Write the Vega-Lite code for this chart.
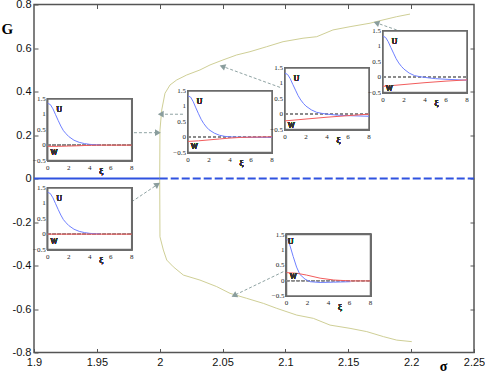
{
  "$schema": "https://vega.github.io/schema/vega-lite/v6.json",
  "width": 440,
  "height": 348,
  "autosize": {"type": "none"},
  "padding": {"left": 34, "top": 4.5, "right": 11, "bottom": 24.5},
  "background": "white",
  "config": {
    "view": {"stroke": "#555555", "strokeWidth": 1.5},
    "axis": {"grid": false, "domain": false, "tickColor": "#555555", "labelColor": "#111111"},
    "text": {"fill": "#1a1a1a", "opacity": 1}
  },
  "datasets": {
    "curve": [
      {"branch": "upper", "sigma": 2.0, "G": 0.0},
      {"branch": "upper", "sigma": 2.0002, "G": 0.223},
      {"branch": "upper", "sigma": 2.0016, "G": 0.315},
      {"branch": "upper", "sigma": 2.0042, "G": 0.392},
      {"branch": "upper", "sigma": 2.0082, "G": 0.43},
      {"branch": "upper", "sigma": 2.0135, "G": 0.453},
      {"branch": "upper", "sigma": 2.0215, "G": 0.476},
      {"branch": "upper", "sigma": 2.032, "G": 0.499},
      {"branch": "upper", "sigma": 2.04, "G": 0.522},
      {"branch": "upper", "sigma": 2.0503, "G": 0.545},
      {"branch": "upper", "sigma": 2.0612, "G": 0.568},
      {"branch": "upper", "sigma": 2.0718, "G": 0.583},
      {"branch": "upper", "sigma": 2.0851, "G": 0.606},
      {"branch": "upper", "sigma": 2.0981, "G": 0.629},
      {"branch": "upper", "sigma": 2.114, "G": 0.645},
      {"branch": "upper", "sigma": 2.1249, "G": 0.652},
      {"branch": "upper", "sigma": 2.1378, "G": 0.683},
      {"branch": "upper", "sigma": 2.1514, "G": 0.698},
      {"branch": "upper", "sigma": 2.1673, "G": 0.714},
      {"branch": "upper", "sigma": 2.1776, "G": 0.729},
      {"branch": "upper", "sigma": 2.1885, "G": 0.744},
      {"branch": "upper", "sigma": 2.1991, "G": 0.756},
      {"branch": "lower", "sigma": 2.0, "G": 0.0},
      {"branch": "lower", "sigma": 2.0002, "G": -0.268},
      {"branch": "lower", "sigma": 2.0029, "G": -0.329},
      {"branch": "lower", "sigma": 2.0056, "G": -0.375},
      {"branch": "lower", "sigma": 2.0108, "G": -0.406},
      {"branch": "lower", "sigma": 2.0188, "G": -0.444},
      {"branch": "lower", "sigma": 2.032, "G": -0.467},
      {"branch": "lower", "sigma": 2.0453, "G": -0.497},
      {"branch": "lower", "sigma": 2.0559, "G": -0.528},
      {"branch": "lower", "sigma": 2.0692, "G": -0.551},
      {"branch": "lower", "sigma": 2.0824, "G": -0.574},
      {"branch": "lower", "sigma": 2.0931, "G": -0.597},
      {"branch": "lower", "sigma": 2.109, "G": -0.628},
      {"branch": "lower", "sigma": 2.1222, "G": -0.643},
      {"branch": "lower", "sigma": 2.1355, "G": -0.674},
      {"branch": "lower", "sigma": 2.1514, "G": -0.689},
      {"branch": "lower", "sigma": 2.1647, "G": -0.704},
      {"branch": "lower", "sigma": 2.1779, "G": -0.727},
      {"branch": "lower", "sigma": 2.1885, "G": -0.743},
      {"branch": "lower", "sigma": 2.2005, "G": -0.75}
    ],
    "arrows": [
      {"id": "A1", "s1": 1.9795, "g1": 0.2106, "s2": 1.9978, "g2": 0.2106},
      {"id": "A2", "s1": 1.9777, "g1": -0.107, "s2": 1.9976, "g2": -0.03},
      {"id": "A3", "s1": 2.0185, "g1": 0.2955, "s2": 2.0016, "g2": 0.2955},
      {"id": "A4", "s1": 2.0957, "g1": 0.419, "s2": 2.0506, "g2": 0.514},
      {"id": "A5", "s1": 2.1885, "g1": 0.683, "s2": 2.1731, "g2": 0.714},
      {"id": "A6", "s1": 2.0983, "g1": -0.4285, "s2": 2.0599, "g2": -0.5356}
    ],
    "xt": [{"t": 0, "lab": "0"}, {"t": 2, "lab": "2"}, {"t": 4, "lab": "4"}, {"t": 6, "lab": "6"}, {"t": 8, "lab": "8"}],
    "yt": [{"t": -0.5, "lab": "−0.5"}, {"t": 0, "lab": "0"}, {"t": 0.5, "lab": "0.5"}, {"t": 1, "lab": "1"}, {"t": 1.5, "lab": "1.5"}],
    "inset1": [
      {"s": "U", "xi": 0, "v": 1.36}, {"s": "U", "xi": 0.25, "v": 1.32}, {"s": "U", "xi": 0.5, "v": 1.18}, {"s": "U", "xi": 0.75, "v": 0.99}, {"s": "U", "xi": 1, "v": 0.8}, {"s": "U", "xi": 1.25, "v": 0.62}, {"s": "U", "xi": 1.5, "v": 0.47}, {"s": "U", "xi": 1.75, "v": 0.37}, {"s": "U", "xi": 2, "v": 0.28}, {"s": "U", "xi": 2.5, "v": 0.16}, {"s": "U", "xi": 3, "v": 0.09}, {"s": "U", "xi": 3.5, "v": 0.05}, {"s": "U", "xi": 4, "v": 0.025}, {"s": "U", "xi": 4.5, "v": 0.012}, {"s": "U", "xi": 5, "v": 0.005},
      {"s": "W", "xi": 0, "v": -0.04}, {"s": "W", "xi": 1, "v": -0.04}, {"s": "W", "xi": 2, "v": -0.03}, {"s": "W", "xi": 3, "v": -0.02}, {"s": "W", "xi": 4, "v": -0.005}, {"s": "W", "xi": 5, "v": 0}, {"s": "W", "xi": 8, "v": 0}
    ],
    "inset2": [
      {"s": "U", "xi": 0, "v": 1.36}, {"s": "U", "xi": 0.25, "v": 1.32}, {"s": "U", "xi": 0.5, "v": 1.18}, {"s": "U", "xi": 0.75, "v": 0.99}, {"s": "U", "xi": 1, "v": 0.8}, {"s": "U", "xi": 1.25, "v": 0.62}, {"s": "U", "xi": 1.5, "v": 0.47}, {"s": "U", "xi": 1.75, "v": 0.37}, {"s": "U", "xi": 2, "v": 0.28}, {"s": "U", "xi": 2.5, "v": 0.16}, {"s": "U", "xi": 3, "v": 0.09}, {"s": "U", "xi": 3.5, "v": 0.05}, {"s": "U", "xi": 4, "v": 0.025}, {"s": "U", "xi": 4.5, "v": 0.012}, {"s": "U", "xi": 5, "v": 0.005},
      {"s": "W", "xi": 0, "v": 0}, {"s": "W", "xi": 8, "v": 0}
    ],
    "inset3": [
      {"s": "U", "xi": 0, "v": 1.34}, {"s": "U", "xi": 0.25, "v": 1.3}, {"s": "U", "xi": 0.5, "v": 1.15}, {"s": "U", "xi": 0.75, "v": 0.95}, {"s": "U", "xi": 1, "v": 0.76}, {"s": "U", "xi": 1.25, "v": 0.58}, {"s": "U", "xi": 1.5, "v": 0.44}, {"s": "U", "xi": 1.75, "v": 0.33}, {"s": "U", "xi": 2, "v": 0.24}, {"s": "U", "xi": 2.5, "v": 0.13}, {"s": "U", "xi": 3, "v": 0.06}, {"s": "U", "xi": 3.5, "v": 0.025}, {"s": "U", "xi": 4, "v": 0.008}, {"s": "U", "xi": 5, "v": -0.003}, {"s": "U", "xi": 6, "v": -0.006}, {"s": "U", "xi": 8, "v": -0.008},
      {"s": "W", "xi": 0, "v": -0.14}, {"s": "W", "xi": 1, "v": -0.12}, {"s": "W", "xi": 2, "v": -0.09}, {"s": "W", "xi": 3, "v": -0.06}, {"s": "W", "xi": 4, "v": -0.03}, {"s": "W", "xi": 5, "v": -0.01}, {"s": "W", "xi": 6, "v": 0}, {"s": "W", "xi": 8, "v": 0.01}
    ],
    "inset4": [
      {"s": "U", "xi": 0, "v": 1.33}, {"s": "U", "xi": 0.25, "v": 1.29}, {"s": "U", "xi": 0.5, "v": 1.15}, {"s": "U", "xi": 0.75, "v": 0.96}, {"s": "U", "xi": 1, "v": 0.78}, {"s": "U", "xi": 1.25, "v": 0.6}, {"s": "U", "xi": 1.5, "v": 0.46}, {"s": "U", "xi": 1.75, "v": 0.35}, {"s": "U", "xi": 2, "v": 0.26}, {"s": "U", "xi": 2.5, "v": 0.14}, {"s": "U", "xi": 3, "v": 0.06}, {"s": "U", "xi": 3.5, "v": 0.025}, {"s": "U", "xi": 4, "v": 0.0}, {"s": "U", "xi": 5, "v": -0.035}, {"s": "U", "xi": 6, "v": -0.05}, {"s": "U", "xi": 8, "v": -0.07},
      {"s": "W", "xi": 0, "v": -0.22}, {"s": "W", "xi": 2, "v": -0.16}, {"s": "W", "xi": 4, "v": -0.1}, {"s": "W", "xi": 6, "v": -0.05}, {"s": "W", "xi": 8, "v": 0.0}
    ],
    "inset5": [
      {"s": "U", "xi": 0, "v": 1.33}, {"s": "U", "xi": 0.25, "v": 1.29}, {"s": "U", "xi": 0.5, "v": 1.15}, {"s": "U", "xi": 0.75, "v": 0.96}, {"s": "U", "xi": 1, "v": 0.78}, {"s": "U", "xi": 1.25, "v": 0.6}, {"s": "U", "xi": 1.5, "v": 0.46}, {"s": "U", "xi": 1.75, "v": 0.35}, {"s": "U", "xi": 2, "v": 0.26}, {"s": "U", "xi": 2.5, "v": 0.13}, {"s": "U", "xi": 3, "v": 0.05}, {"s": "U", "xi": 3.5, "v": 0.015}, {"s": "U", "xi": 4, "v": -0.01}, {"s": "U", "xi": 5, "v": -0.05}, {"s": "U", "xi": 6, "v": -0.07}, {"s": "U", "xi": 8, "v": -0.1},
      {"s": "W", "xi": 0, "v": -0.3}, {"s": "W", "xi": 2, "v": -0.24}, {"s": "W", "xi": 4, "v": -0.18}, {"s": "W", "xi": 6, "v": -0.13}, {"s": "W", "xi": 8, "v": -0.09}
    ],
    "inset6": [
      {"s": "U", "xi": 0, "v": 1.36}, {"s": "U", "xi": 0.16, "v": 1.3}, {"s": "U", "xi": 0.32, "v": 1.15}, {"s": "U", "xi": 0.64, "v": 0.78}, {"s": "U", "xi": 0.96, "v": 0.44}, {"s": "U", "xi": 1.28, "v": 0.2}, {"s": "U", "xi": 1.76, "v": 0.05}, {"s": "U", "xi": 2.24, "v": -0.035}, {"s": "U", "xi": 3.2, "v": -0.06}, {"s": "U", "xi": 4.5, "v": -0.05}, {"s": "U", "xi": 6.1, "v": -0.035},
      {"s": "W", "xi": 0, "v": 0.26}, {"s": "W", "xi": 0.96, "v": 0.24}, {"s": "W", "xi": 1.92, "v": 0.18}, {"s": "W", "xi": 3.2, "v": 0.08}, {"s": "W", "xi": 4.5, "v": 0.02}, {"s": "W", "xi": 6.1, "v": -0.01}, {"s": "W", "xi": 8, "v": -0.01}
    ]
  },
  "layer": [
    {
      "layer": [
        {
          "data": {"name": "curve"},
          "mark": {"type": "line", "color": "#cfcf96", "strokeWidth": 1},
          "encoding": {
            "x": {"field": "sigma", "type": "quantitative", "scale": {"domain": [1.9, 2.25], "nice": false, "zero": false},
              "axis": {"orient": "bottom", "values": [1.9, 1.95, 2, 2.05, 2.1, 2.15, 2.2, 2.25], "format": "~g", "tickSize": -4, "labelPadding": 8, "labelFont": "Liberation Sans", "labelFontSize": 11, "labelFlush": false,
                "title": "σ", "titleFont": "Liberation Serif", "titleFontSize": 14, "titleFontWeight": "bold", "titleX": 409, "titleY": 13.5, "titleBaseline": "middle", "titleAlign": "center", "titleAnchor": null}},
            "y": {"field": "G", "type": "quantitative", "scale": {"domain": [-0.8, 0.8], "nice": false, "zero": false},
              "axis": {"orient": "left", "values": [-0.8, -0.6, -0.4, -0.2, 0, 0.2, 0.4, 0.6, 0.8], "format": "~g", "labelExpr": "replace(datum.label, '−', '-')", "tickSize": -4, "labelPadding": 7, "labelFont": "Liberation Sans", "labelFontSize": 11, "labelFlush": false,
                "title": "G", "titleAngle": 0, "titleFont": "Liberation Serif", "titleFontSize": 15, "titleFontWeight": "bold", "titleX": -33, "titleY": 23.5, "titleBaseline": "middle", "titleAlign": "left", "titleAnchor": null}},
            "detail": {"field": "branch", "type": "nominal"}
          }
        },
        {
          "data": {"values": [{"sigma": 1.9, "G": 0}, {"sigma": 2.0, "G": 0}]},
          "mark": {"type": "line", "color": "#2f52e0", "strokeWidth": 2.2},
          "encoding": {
            "x": {"field": "sigma", "type": "quantitative", "axis": {"orient": "top", "values": [1.95, 2, 2.05, 2.1, 2.15, 2.2], "labels": false, "tickSize": -4, "title": null}},
            "y": {"field": "G", "type": "quantitative", "axis": {"orient": "right", "values": [-0.6, -0.4, -0.2, 0, 0.2, 0.4, 0.6], "labels": false, "tickSize": -4, "title": null}}
          }
        },
        {
          "data": {"values": [{"sigma": 2.0, "G": 0}, {"sigma": 2.25, "G": 0}]},
          "mark": {"type": "line", "color": "#2f52e0", "strokeWidth": 2.2, "strokeDash": [8, 3]},
          "encoding": {
            "x": {"field": "sigma", "type": "quantitative", "axis": null},
            "y": {"field": "G", "type": "quantitative", "axis": null}
          }
        },
        {
          "data": {"name": "arrows"},
          "mark": {"type": "rule", "color": "#8fa3a3", "strokeWidth": 1, "strokeDash": [3, 2]},
          "encoding": {
            "x": {"field": "s1", "type": "quantitative", "axis": null},
            "y": {"field": "g1", "type": "quantitative", "axis": null},
            "x2": {"field": "s2"},
            "y2": {"field": "g2"}
          }
        },
        {"data": {"name": "arrows"}, "transform": [{"filter": "datum.id == 'A1'"}], "mark": {"type": "point", "shape": "triangle", "filled": true, "color": "#8a9d9d", "opacity": 1, "size": 45, "angle": 90}, "encoding": {"x": {"field": "s2", "type": "quantitative", "axis": null}, "y": {"field": "g2", "type": "quantitative", "axis": null}}},
        {"data": {"name": "arrows"}, "transform": [{"filter": "datum.id == 'A2'"}], "mark": {"type": "point", "shape": "triangle", "filled": true, "color": "#8a9d9d", "opacity": 1, "size": 45, "angle": 56}, "encoding": {"x": {"field": "s2", "type": "quantitative", "axis": null}, "y": {"field": "g2", "type": "quantitative", "axis": null}}},
        {"data": {"name": "arrows"}, "transform": [{"filter": "datum.id == 'A3'"}], "mark": {"type": "point", "shape": "triangle", "filled": true, "color": "#8a9d9d", "opacity": 1, "size": 45, "angle": 270}, "encoding": {"x": {"field": "s2", "type": "quantitative", "axis": null}, "y": {"field": "g2", "type": "quantitative", "axis": null}}},
        {"data": {"name": "arrows"}, "transform": [{"filter": "datum.id == 'A4'"}], "mark": {"type": "point", "shape": "triangle", "filled": true, "color": "#8a9d9d", "opacity": 1, "size": 45, "angle": 290}, "encoding": {"x": {"field": "s2", "type": "quantitative", "axis": null}, "y": {"field": "g2", "type": "quantitative", "axis": null}}},
        {"data": {"name": "arrows"}, "transform": [{"filter": "datum.id == 'A5'"}], "mark": {"type": "point", "shape": "triangle", "filled": true, "color": "#8a9d9d", "opacity": 1, "size": 45, "angle": 289}, "encoding": {"x": {"field": "s2", "type": "quantitative", "axis": null}, "y": {"field": "g2", "type": "quantitative", "axis": null}}},
        {"data": {"name": "arrows"}, "transform": [{"filter": "datum.id == 'A6'"}], "mark": {"type": "point", "shape": "triangle", "filled": true, "color": "#8a9d9d", "opacity": 1, "size": 45, "angle": 244}, "encoding": {"x": {"field": "s2", "type": "quantitative", "axis": null}, "y": {"field": "g2", "type": "quantitative", "axis": null}}}
      ],
      "resolve": {"axis": {"x": "independent", "y": "independent"}}
    },
    {
      "data": {"name": "inset1"},
      "layer": [
        {"mark": {"type": "rect", "fill": "white", "stroke": "#6b6b6b", "strokeWidth": 1.5},
         "encoding": {"x": {"datum": 0, "type": "quantitative", "axis": null, "scale": {"domain": [0, 8], "range": [13.7, 97.7], "nice": false, "zero": false}}, "x2": {"datum": 8}, "y": {"datum": -0.5, "type": "quantitative", "axis": null, "scale": {"domain": [-0.5, 1.5], "range": [156, 94.5], "nice": false, "zero": false}}, "y2": {"datum": 1.5}}},
        {"mark": {"type": "rule", "color": "#8a8a8a", "strokeWidth": 0.8, "strokeDash": [3, 2]}, "encoding": {"x": {"datum": 0, "type": "quantitative", "axis": null}, "x2": {"datum": 8}, "y": {"datum": 0, "type": "quantitative", "axis": null}}},
        {"mark": {"type": "line", "strokeWidth": 1}, "encoding": {"x": {"field": "xi", "type": "quantitative", "axis": null}, "y": {"field": "v", "type": "quantitative", "axis": null}, "color": {"field": "s", "type": "nominal", "scale": {"domain": ["U", "W"], "range": ["#6f80ff", "#f25c5c"]}, "legend": null}}},
        {"data": {"name": "xt"}, "mark": {"type": "text", "font": "Liberation Serif", "fontSize": 7, "fill": "#1a1a1a", "baseline": "top", "dy": 3}, "encoding": {"x": {"field": "t", "type": "quantitative", "axis": null}, "y": {"datum": -0.5, "type": "quantitative", "axis": null}, "text": {"field": "lab"}}},
        {"data": {"name": "yt"}, "mark": {"type": "text", "font": "Liberation Serif", "fontSize": 7, "fill": "#1a1a1a", "align": "right", "baseline": "middle", "dx": -2}, "encoding": {"x": {"datum": 0, "type": "quantitative", "axis": null}, "y": {"field": "t", "type": "quantitative", "axis": null}, "text": {"field": "lab"}}},
        {"mark": {"type": "text", "text": "U", "font": "Liberation Serif", "fontSize": 7.5, "fill": "#333333"}, "encoding": {"x": {"datum": 1.1, "type": "quantitative", "axis": null}, "y": {"datum": 1.15, "type": "quantitative", "axis": null}}},
        {"mark": {"type": "text", "text": "W", "font": "Liberation Serif", "fontSize": 7.5, "fill": "#333333"}, "encoding": {"x": {"datum": 0.6, "type": "quantitative", "axis": null}, "y": {"datum": -0.25, "type": "quantitative", "axis": null}}},
        {"mark": {"type": "text", "text": "ξ", "font": "Liberation Serif", "fontSize": 9, "fill": "#333333"}, "encoding": {"x": {"datum": 5.1, "type": "quantitative", "axis": null}, "y": {"datum": -0.85, "type": "quantitative", "axis": null}}}
      ]
    },
    {
      "data": {"name": "inset2"},
      "layer": [
        {"mark": {"type": "rect", "fill": "white", "stroke": "#6b6b6b", "strokeWidth": 1.5},
         "encoding": {"x": {"datum": 0, "type": "quantitative", "axis": null, "scale": {"domain": [0, 8], "range": [13.7, 97.7], "nice": false, "zero": false}}, "x2": {"datum": 8}, "y": {"datum": -0.5, "type": "quantitative", "axis": null, "scale": {"domain": [-0.5, 1.5], "range": [245, 183.5], "nice": false, "zero": false}}, "y2": {"datum": 1.5}}},
        {"mark": {"type": "rule", "color": "#8a8a8a", "strokeWidth": 0.8, "strokeDash": [3, 2]}, "encoding": {"x": {"datum": 0, "type": "quantitative", "axis": null}, "x2": {"datum": 8}, "y": {"datum": 0, "type": "quantitative", "axis": null}}},
        {"mark": {"type": "line", "strokeWidth": 1}, "encoding": {"x": {"field": "xi", "type": "quantitative", "axis": null}, "y": {"field": "v", "type": "quantitative", "axis": null}, "color": {"field": "s", "type": "nominal", "scale": {"domain": ["U", "W"], "range": ["#6f80ff", "#f25c5c"]}, "legend": null}}},
        {"data": {"name": "xt"}, "mark": {"type": "text", "font": "Liberation Serif", "fontSize": 7, "fill": "#1a1a1a", "baseline": "top", "dy": 3}, "encoding": {"x": {"field": "t", "type": "quantitative", "axis": null}, "y": {"datum": -0.5, "type": "quantitative", "axis": null}, "text": {"field": "lab"}}},
        {"data": {"name": "yt"}, "mark": {"type": "text", "font": "Liberation Serif", "fontSize": 7, "fill": "#1a1a1a", "align": "right", "baseline": "middle", "dx": -2}, "encoding": {"x": {"datum": 0, "type": "quantitative", "axis": null}, "y": {"field": "t", "type": "quantitative", "axis": null}, "text": {"field": "lab"}}},
        {"mark": {"type": "text", "text": "U", "font": "Liberation Serif", "fontSize": 7.5, "fill": "#333333"}, "encoding": {"x": {"datum": 1.1, "type": "quantitative", "axis": null}, "y": {"datum": 1.15, "type": "quantitative", "axis": null}}},
        {"mark": {"type": "text", "text": "W", "font": "Liberation Serif", "fontSize": 7.5, "fill": "#333333"}, "encoding": {"x": {"datum": 0.6, "type": "quantitative", "axis": null}, "y": {"datum": -0.25, "type": "quantitative", "axis": null}}},
        {"mark": {"type": "text", "text": "ξ", "font": "Liberation Serif", "fontSize": 9, "fill": "#333333"}, "encoding": {"x": {"datum": 5.1, "type": "quantitative", "axis": null}, "y": {"datum": -0.85, "type": "quantitative", "axis": null}}}
      ]
    },
    {
      "data": {"name": "inset3"},
      "layer": [
        {"mark": {"type": "rect", "fill": "white", "stroke": "#6b6b6b", "strokeWidth": 1.5},
         "encoding": {"x": {"datum": 0, "type": "quantitative", "axis": null, "scale": {"domain": [0, 8], "range": [154, 238], "nice": false, "zero": false}}, "x2": {"datum": 8}, "y": {"datum": -0.5, "type": "quantitative", "axis": null, "scale": {"domain": [-0.5, 1.5], "range": [148, 86.5], "nice": false, "zero": false}}, "y2": {"datum": 1.5}}},
        {"mark": {"type": "rule", "color": "#8a8a8a", "strokeWidth": 0.8, "strokeDash": [3, 2]}, "encoding": {"x": {"datum": 0, "type": "quantitative", "axis": null}, "x2": {"datum": 8}, "y": {"datum": 0, "type": "quantitative", "axis": null}}},
        {"mark": {"type": "line", "strokeWidth": 1}, "encoding": {"x": {"field": "xi", "type": "quantitative", "axis": null}, "y": {"field": "v", "type": "quantitative", "axis": null}, "color": {"field": "s", "type": "nominal", "scale": {"domain": ["U", "W"], "range": ["#6f80ff", "#f25c5c"]}, "legend": null}}},
        {"data": {"name": "xt"}, "mark": {"type": "text", "font": "Liberation Serif", "fontSize": 7, "fill": "#1a1a1a", "baseline": "top", "dy": 3}, "encoding": {"x": {"field": "t", "type": "quantitative", "axis": null}, "y": {"datum": -0.5, "type": "quantitative", "axis": null}, "text": {"field": "lab"}}},
        {"data": {"name": "yt"}, "mark": {"type": "text", "font": "Liberation Serif", "fontSize": 7, "fill": "#1a1a1a", "align": "right", "baseline": "middle", "dx": -2}, "encoding": {"x": {"datum": 0, "type": "quantitative", "axis": null}, "y": {"field": "t", "type": "quantitative", "axis": null}, "text": {"field": "lab"}}},
        {"mark": {"type": "text", "text": "U", "font": "Liberation Serif", "fontSize": 7.5, "fill": "#333333"}, "encoding": {"x": {"datum": 1.1, "type": "quantitative", "axis": null}, "y": {"datum": 1.15, "type": "quantitative", "axis": null}}},
        {"mark": {"type": "text", "text": "W", "font": "Liberation Serif", "fontSize": 7.5, "fill": "#333333"}, "encoding": {"x": {"datum": 0.6, "type": "quantitative", "axis": null}, "y": {"datum": -0.33, "type": "quantitative", "axis": null}}},
        {"mark": {"type": "text", "text": "ξ", "font": "Liberation Serif", "fontSize": 9, "fill": "#333333"}, "encoding": {"x": {"datum": 5.1, "type": "quantitative", "axis": null}, "y": {"datum": -0.85, "type": "quantitative", "axis": null}}}
      ]
    },
    {
      "data": {"name": "inset4"},
      "layer": [
        {"mark": {"type": "rect", "fill": "white", "stroke": "#6b6b6b", "strokeWidth": 1.5},
         "encoding": {"x": {"datum": 0, "type": "quantitative", "axis": null, "scale": {"domain": [0, 8], "range": [251, 335], "nice": false, "zero": false}}, "x2": {"datum": 8}, "y": {"datum": -0.5, "type": "quantitative", "axis": null, "scale": {"domain": [-0.5, 1.5], "range": [125, 63.5], "nice": false, "zero": false}}, "y2": {"datum": 1.5}}},
        {"mark": {"type": "rule", "color": "#8a8a8a", "strokeWidth": 0.8, "strokeDash": [3, 2]}, "encoding": {"x": {"datum": 0, "type": "quantitative", "axis": null}, "x2": {"datum": 8}, "y": {"datum": 0, "type": "quantitative", "axis": null}}},
        {"mark": {"type": "line", "strokeWidth": 1}, "encoding": {"x": {"field": "xi", "type": "quantitative", "axis": null}, "y": {"field": "v", "type": "quantitative", "axis": null}, "color": {"field": "s", "type": "nominal", "scale": {"domain": ["U", "W"], "range": ["#6f80ff", "#f25c5c"]}, "legend": null}}},
        {"data": {"name": "xt"}, "mark": {"type": "text", "font": "Liberation Serif", "fontSize": 7, "fill": "#1a1a1a", "baseline": "top", "dy": 3}, "encoding": {"x": {"field": "t", "type": "quantitative", "axis": null}, "y": {"datum": -0.5, "type": "quantitative", "axis": null}, "text": {"field": "lab"}}},
        {"data": {"name": "yt"}, "mark": {"type": "text", "font": "Liberation Serif", "fontSize": 7, "fill": "#1a1a1a", "align": "right", "baseline": "middle", "dx": -2}, "encoding": {"x": {"datum": 0, "type": "quantitative", "axis": null}, "y": {"field": "t", "type": "quantitative", "axis": null}, "text": {"field": "lab"}}},
        {"mark": {"type": "text", "text": "U", "font": "Liberation Serif", "fontSize": 7.5, "fill": "#333333"}, "encoding": {"x": {"datum": 1.1, "type": "quantitative", "axis": null}, "y": {"datum": 1.15, "type": "quantitative", "axis": null}}},
        {"mark": {"type": "text", "text": "W", "font": "Liberation Serif", "fontSize": 7.5, "fill": "#333333"}, "encoding": {"x": {"datum": 0.6, "type": "quantitative", "axis": null}, "y": {"datum": -0.4, "type": "quantitative", "axis": null}}},
        {"mark": {"type": "text", "text": "ξ", "font": "Liberation Serif", "fontSize": 9, "fill": "#333333"}, "encoding": {"x": {"datum": 5.1, "type": "quantitative", "axis": null}, "y": {"datum": -0.85, "type": "quantitative", "axis": null}}}
      ]
    },
    {
      "data": {"name": "inset5"},
      "layer": [
        {"mark": {"type": "rect", "fill": "white", "stroke": "#6b6b6b", "strokeWidth": 1.5},
         "encoding": {"x": {"datum": 0, "type": "quantitative", "axis": null, "scale": {"domain": [0, 8], "range": [349, 433], "nice": false, "zero": false}}, "x2": {"datum": 8}, "y": {"datum": -0.5, "type": "quantitative", "axis": null, "scale": {"domain": [-0.5, 1.5], "range": [88, 26.5], "nice": false, "zero": false}}, "y2": {"datum": 1.5}}},
        {"mark": {"type": "rule", "color": "#8a8a8a", "strokeWidth": 0.8, "strokeDash": [3, 2]}, "encoding": {"x": {"datum": 0, "type": "quantitative", "axis": null}, "x2": {"datum": 8}, "y": {"datum": 0, "type": "quantitative", "axis": null}}},
        {"mark": {"type": "line", "strokeWidth": 1}, "encoding": {"x": {"field": "xi", "type": "quantitative", "axis": null}, "y": {"field": "v", "type": "quantitative", "axis": null}, "color": {"field": "s", "type": "nominal", "scale": {"domain": ["U", "W"], "range": ["#6f80ff", "#f25c5c"]}, "legend": null}}},
        {"data": {"name": "xt"}, "mark": {"type": "text", "font": "Liberation Serif", "fontSize": 7, "fill": "#1a1a1a", "baseline": "top", "dy": 3}, "encoding": {"x": {"field": "t", "type": "quantitative", "axis": null}, "y": {"datum": -0.5, "type": "quantitative", "axis": null}, "text": {"field": "lab"}}},
        {"data": {"name": "yt"}, "mark": {"type": "text", "font": "Liberation Serif", "fontSize": 7, "fill": "#1a1a1a", "align": "right", "baseline": "middle", "dx": -2}, "encoding": {"x": {"datum": 0, "type": "quantitative", "axis": null}, "y": {"field": "t", "type": "quantitative", "axis": null}, "text": {"field": "lab"}}},
        {"mark": {"type": "text", "text": "U", "font": "Liberation Serif", "fontSize": 7.5, "fill": "#333333"}, "encoding": {"x": {"datum": 1.1, "type": "quantitative", "axis": null}, "y": {"datum": 1.15, "type": "quantitative", "axis": null}}},
        {"mark": {"type": "text", "text": "W", "font": "Liberation Serif", "fontSize": 7.5, "fill": "#333333"}, "encoding": {"x": {"datum": 0.6, "type": "quantitative", "axis": null}, "y": {"datum": -0.4, "type": "quantitative", "axis": null}}},
        {"mark": {"type": "text", "text": "ξ", "font": "Liberation Serif", "fontSize": 9, "fill": "#333333"}, "encoding": {"x": {"datum": 5.1, "type": "quantitative", "axis": null}, "y": {"datum": -0.85, "type": "quantitative", "axis": null}}}
      ]
    },
    {
      "data": {"name": "inset6"},
      "layer": [
        {"mark": {"type": "rect", "fill": "white", "stroke": "#6b6b6b", "strokeWidth": 1.5},
         "encoding": {"x": {"datum": 0, "type": "quantitative", "axis": null, "scale": {"domain": [0, 8], "range": [252.5, 336.5], "nice": false, "zero": false}}, "x2": {"datum": 8}, "y": {"datum": -0.5, "type": "quantitative", "axis": null, "scale": {"domain": [-0.5, 1.5], "range": [291.5, 230], "nice": false, "zero": false}}, "y2": {"datum": 1.5}}},
        {"mark": {"type": "rule", "color": "#8a8a8a", "strokeWidth": 0.8, "strokeDash": [3, 2]}, "encoding": {"x": {"datum": 0, "type": "quantitative", "axis": null}, "x2": {"datum": 8}, "y": {"datum": 0, "type": "quantitative", "axis": null}}},
        {"mark": {"type": "line", "strokeWidth": 1}, "encoding": {"x": {"field": "xi", "type": "quantitative", "axis": null}, "y": {"field": "v", "type": "quantitative", "axis": null}, "color": {"field": "s", "type": "nominal", "scale": {"domain": ["U", "W"], "range": ["#6f80ff", "#f25c5c"]}, "legend": null}}},
        {"data": {"name": "xt"}, "mark": {"type": "text", "font": "Liberation Serif", "fontSize": 7, "fill": "#1a1a1a", "baseline": "top", "dy": 3}, "encoding": {"x": {"field": "t", "type": "quantitative", "axis": null}, "y": {"datum": -0.5, "type": "quantitative", "axis": null}, "text": {"field": "lab"}}},
        {"data": {"name": "yt"}, "mark": {"type": "text", "font": "Liberation Serif", "fontSize": 7, "fill": "#1a1a1a", "align": "right", "baseline": "middle", "dx": -2}, "encoding": {"x": {"datum": 0, "type": "quantitative", "axis": null}, "y": {"field": "t", "type": "quantitative", "axis": null}, "text": {"field": "lab"}}},
        {"mark": {"type": "text", "text": "U", "font": "Liberation Serif", "fontSize": 7.5, "fill": "#333333"}, "encoding": {"x": {"datum": 0.4, "type": "quantitative", "axis": null}, "y": {"datum": 1.27, "type": "quantitative", "axis": null}}},
        {"mark": {"type": "text", "text": "W", "font": "Liberation Serif", "fontSize": 7.5, "fill": "#333333"}, "encoding": {"x": {"datum": 0.65, "type": "quantitative", "axis": null}, "y": {"datum": 0.13, "type": "quantitative", "axis": null}}},
        {"mark": {"type": "text", "text": "ξ", "font": "Liberation Serif", "fontSize": 9, "fill": "#333333"}, "encoding": {"x": {"datum": 5.1, "type": "quantitative", "axis": null}, "y": {"datum": -0.85, "type": "quantitative", "axis": null}}}
      ]
    }
  ],
  "resolve": {"scale": {"x": "independent", "y": "independent"}, "axis": {"x": "independent", "y": "independent"}}
}
